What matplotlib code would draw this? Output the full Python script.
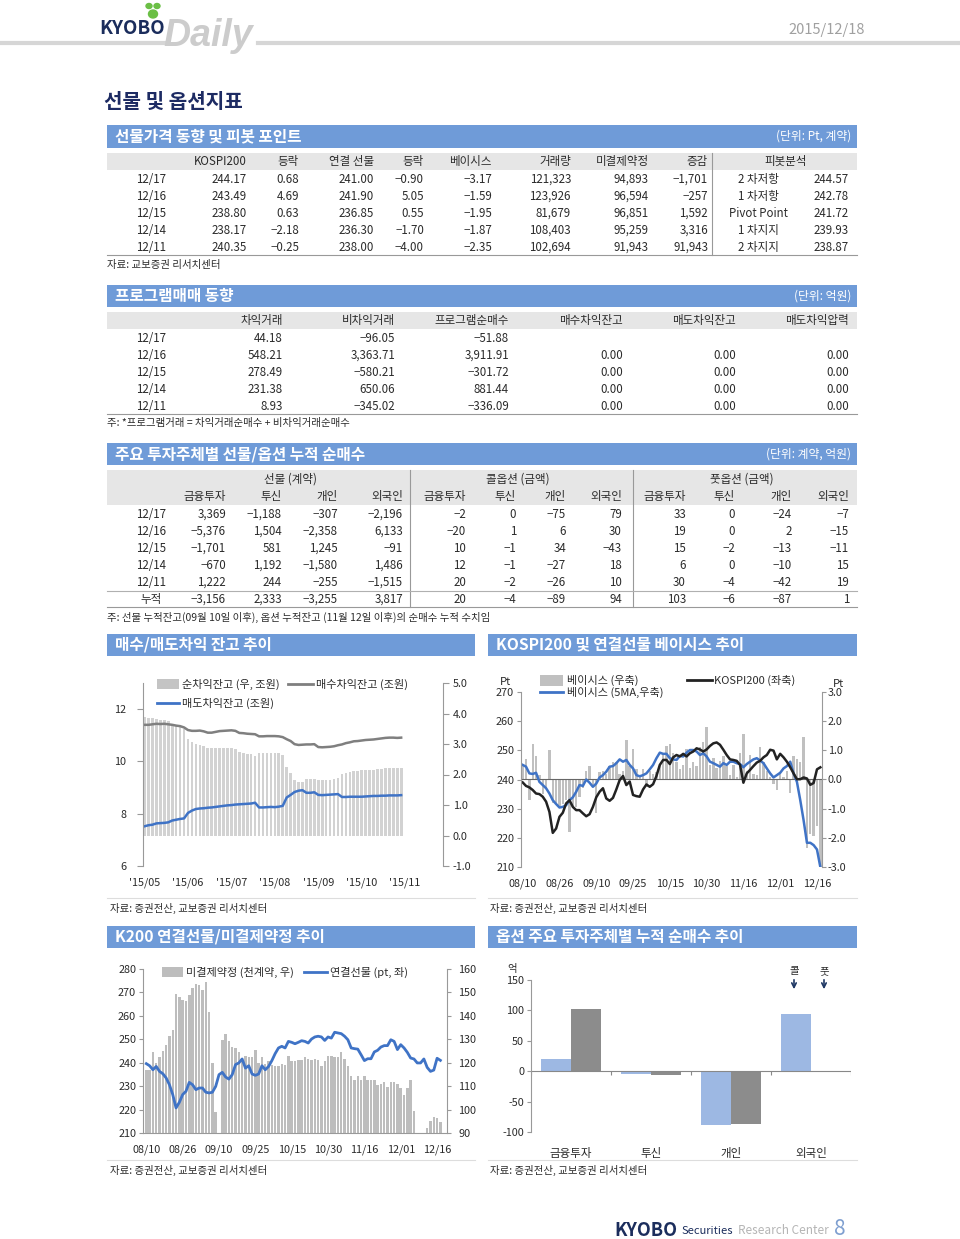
# 선물 및 옵션지표 페이지 재현
import matplotlib
matplotlib.use('Agg')
import matplotlib.pyplot as plt
from matplotlib.patches import Rectangle, Ellipse, FancyArrowPatch
from matplotlib.lines import Line2D
from matplotlib.ticker import FormatStrFormatter
import numpy as np

plt.rcParams['font.family'] = ['Noto Sans CJK KR', 'DejaVu Sans']
plt.rcParams['axes.unicode_minus'] = False

# ---------------- 표 데이터 ----------------
t1_dates = ['12/17', '12/16', '12/15', '12/14', '12/11']
t1_kospi = [244.17, 243.49, 238.80, 238.17, 240.35]
t1_kospi_chg = [0.68, 4.69, 0.63, -2.18, -0.25]
t1_fut = [241.00, 241.90, 236.85, 236.30, 238.00]
t1_fut_chg = [-0.90, 5.05, 0.55, -1.70, -4.00]
t1_basis = [-3.17, -1.59, -1.95, -1.87, -2.35]
t1_volume = [121323, 123926, 81679, 108403, 102694]
t1_oi = [94893, 96594, 96851, 95259, 91943]
t1_oi_chg = [-1701, -257, 1592, 3316, 91943]
t1_pivot_names = ['2 차저항', '1 차저항', 'Pivot Point', '1 차지지', '2 차지지']
t1_pivot_vals = [244.57, 242.78, 241.72, 239.93, 238.87]

t2_arb = [44.18, 548.21, 278.49, 231.38, 8.93]
t2_nonarb = [-96.05, 3363.71, -580.21, 650.06, -345.02]
t2_program = [-51.88, 3911.91, -301.72, 881.44, -336.09]
t2_buy_bal = [None, 0.0, 0.0, 0.0, 0.0]
t2_sell_bal = [None, 0.0, 0.0, 0.0, 0.0]
t2_sell_press = [None, 0.0, 0.0, 0.0, 0.0]

t3_rows = ['12/17', '12/16', '12/15', '12/14', '12/11', '누적']
t3_fut_fin = [3369, -5376, -1701, -670, 1222, -3156]
t3_fut_trust = [-1188, 1504, 581, 1192, 244, 2333]
t3_fut_indiv = [-307, -2358, 1245, -1580, -255, -3255]
t3_fut_foreign = [-2196, 6133, -91, 1486, -1515, 3817]
t3_call_fin = [-2, -20, 10, 12, 20, 20]
t3_call_trust = [0, 1, -1, -1, -2, -4]
t3_call_indiv = [-75, 6, 34, -27, -26, -89]
t3_call_foreign = [79, 30, -43, 18, 10, 94]
t3_put_fin = [33, 19, 15, 6, 30, 103]
t3_put_trust = [0, 0, -2, 0, -4, -6]
t3_put_indiv = [-24, 2, -13, -10, -42, -87]
t3_put_foreign = [-7, -15, -11, 15, 19, 1]

# ---------------- 차트 1: 차익잔고 (2영업일 간격, 월별 11개) ----------------
arb_months = ["'15/05", "'15/06", "'15/07", "'15/08", "'15/09", "'15/10", "'15/11"]
arb_buy = [11.40, 11.40, 11.42, 11.44, 11.43, 11.44, 11.42, 11.40, 11.37, 11.35, 11.30,
           11.20, 11.17, 11.17, 11.18, 11.15, 11.10, 11.10, 11.13, 11.16, 11.17, 11.18,
           11.19, 11.17, 11.09, 11.08, 11.06, 11.05, 11.04, 10.96, 10.96, 10.97, 10.97,
           10.97, 10.96, 10.93, 10.85, 10.78, 10.66, 10.63, 10.64, 10.65, 10.65, 10.66,
           10.55, 10.54, 10.55, 10.56, 10.58, 10.62, 10.65, 10.70, 10.73, 10.77, 10.78,
           10.80, 10.82, 10.83, 10.84, 10.86, 10.88, 10.90, 10.91, 10.91, 10.90, 10.91]
arb_sell = [7.52, 7.56, 7.58, 7.63, 7.64, 7.65, 7.67, 7.74, 7.77, 7.80, 7.82,
            8.03, 8.12, 8.18, 8.20, 8.21, 8.23, 8.24, 8.26, 8.28, 8.30, 8.32,
            8.33, 8.35, 8.36, 8.37, 8.38, 8.39, 8.42, 8.24, 8.24, 8.25, 8.26,
            8.25, 8.27, 8.30, 8.62, 8.72, 8.83, 8.88, 8.90, 8.80, 8.80, 8.82,
            8.72, 8.71, 8.72, 8.73, 8.74, 8.75, 8.64, 8.64, 8.65, 8.65, 8.65,
            8.65, 8.66, 8.67, 8.68, 8.68, 8.69, 8.69, 8.70, 8.70, 8.70, 8.71]
arb_net = [3.87, 3.85, 3.85, 3.82, 3.80, 3.79, 3.76, 3.67, 3.60, 3.55, 3.48,
           3.17, 3.05, 2.99, 2.98, 2.94, 2.87, 2.86, 2.87, 2.88, 2.87, 2.86,
           2.86, 2.82, 2.73, 2.71, 2.68, 2.66, 2.62, 2.72, 2.72, 2.72, 2.71,
           2.72, 2.69, 2.63, 2.23, 2.06, 1.83, 1.75, 1.74, 1.85, 1.85, 1.84,
           1.83, 1.83, 1.83, 1.83, 1.84, 1.87, 2.01, 2.06, 2.08, 2.12, 2.13,
           2.15, 2.16, 2.16, 2.16, 2.18, 2.19, 2.21, 2.21, 2.21, 2.20, 2.20]

# ---------------- 차트 2/3: 08/10 ~ 12/17 (영업일) ----------------
day_labels = ['08/10', '08/26', '09/10', '09/25', '10/15', '10/30', '11/16', '12/01', '12/16']
kospi200 = [239.0, 237.8, 237.3, 236.4, 235.2, 235.0, 234.1, 232.4, 228.9, 221.7,
            223.2, 227.2, 228.6, 231.8, 232.9, 230.6, 229.5, 229.5, 228.4, 227.4,
            228.1, 230.6, 233.9, 235.8, 237.0, 233.5, 232.7, 233.7, 236.6, 239.8,
            241.2, 238.1, 239.3, 234.7, 234.3, 234.1, 236.6, 238.3, 237.5, 238.4,
            241.2, 245.0, 246.7, 246.7, 245.3, 247.6, 248.4, 247.9, 248.8, 247.9,
            249.0, 249.6, 250.7, 250.3, 249.6, 250.3, 251.5, 252.4, 252.7, 251.9,
            250.2, 248.4, 246.9, 246.7, 246.4, 245.0, 238.9, 242.1, 243.3, 244.6,
            245.8, 246.4, 247.6, 248.4, 250.2, 249.9, 246.9, 248.8, 247.6, 246.1,
            244.2, 242.1, 240.1, 240.1, 240.7, 240.35, 238.17, 238.80, 243.49, 244.17]
basis = [0.5, 0.7, -0.7, 1.2, 0.8, 0.15, -0.5, -0.3, 1.0, -0.8,
         -0.8, -0.9, -0.85, -0.7, -1.8, -0.9, -0.95, -0.6, -0.3, 0.3,
         0.45, -0.2, -1.15, 0.25, 0.3, 0.2, 0.45, 0.6, 0.6, 0.2,
         0.3, 1.35, 0.45, 1.05, 0.35, 0.1, 0.35, -0.25, 0.3, 0.2,
         0.25, 0.5, 0.9, 1.15, 1.2, 0.9, 0.6, 0.35, 0.5, 1.05,
         0.4, 0.6, 0.45, 1.1, 1.3, 1.8, 0.5, 0.75, 0.4, 0.65,
         0.8, 0.45, 0.15, 0.5, 0.1, 0.9, 1.55, 0.3, 0.85, 0.2,
         0.15, 1.1, 0.6, 0.3, 0.1, -0.15, -0.35, 0.2, 0.1, 0.3,
         -0.45, 0.8, 0.7, 0.6, 1.45, -2.35, -1.87, -1.95, -1.59, -3.17]
basis_sma = [0.5, 0.44, 0.21, 0.19, 0.23, -0.08, -0.19, -0.3, -0.48, -0.71,
             -0.84, -0.96, -0.94, -0.88, -0.71, -0.61, -0.42, -0.19, -0.22, 0.0,
             -0.11, -0.25, -0.14, 0.07, 0.15, 0.27, 0.44, 0.46, 0.56, 0.69,
             0.61, 0.67, 0.5, 0.38, 0.15, 0.11, 0.15, 0.21, 0.35, 0.5,
             0.73, 0.92, 0.88, 0.88, 0.73, 0.69, 0.67, 0.81, 0.79, 0.92,
             1.01, 1.01, 0.96, 0.84, 0.9, 0.79, 0.61, 0.56, 0.5, 0.44,
             0.56, 0.5, 0.61, 0.61, 0.56, 0.53, 0.42, 0.53, 0.61, 0.69,
             0.73, 0.65, 0.56, 0.38, 0.21, 0.07, 0.15, 0.23, 0.38, 0.46,
             0.61, 0.21, -0.08, -0.71, -1.4, -2.17, -2.17, -2.25, -2.4, -3.0]
fut_close = [239.6, 238.7, 237.0, 238.4, 236.3, 235.3, 233.5, 230.6, 226.4, 220.7,
             223.1, 226.4, 227.8, 231.6, 230.6, 228.5, 229.2, 229.2, 227.4, 227.1,
             227.4, 229.9, 234.9, 235.9, 233.9, 233.0, 234.9, 239.2, 239.9, 241.6,
             237.7, 238.7, 235.2, 234.6, 235.2, 238.7, 237.0, 238.4, 240.9, 243.9,
             246.3, 247.0, 246.3, 249.1, 248.7, 248.1, 248.7, 249.4, 249.1, 248.4,
             250.1, 251.0, 251.3, 251.0, 249.5, 251.0, 250.5, 253.0, 252.7, 252.4,
             251.3, 249.8, 246.3, 246.0, 245.8, 243.4, 240.9, 241.7, 241.7, 244.6,
             245.3, 246.7, 247.3, 247.3, 249.8, 249.1, 245.6, 247.7, 246.3, 244.4,
             242.0, 241.6, 239.9, 239.9, 241.6, 238.0, 236.3, 236.85, 241.9, 241.0]
open_int = [117.0, 116.7, 124.6, 119.9, 122.3, 124.9, 127.7, 131.3, 133.8, 149.3,
            148.0, 146.9, 146.2, 148.7, 151.9, 153.7, 153.0, 150.9, 154.4, 141.6,
            119.9, 99.0, 90.0, 129.8, 132.4, 129.1, 126.6, 126.3, 124.4, 121.3,
            123.0, 122.4, 122.4, 125.6, 119.9, 122.4, 119.4, 120.6, 119.2, 118.7,
            118.7, 119.4, 119.2, 122.7, 120.9, 120.6, 121.3, 121.0, 122.3, 121.7,
            121.3, 121.7, 121.3, 118.7, 120.6, 122.7, 122.7, 122.4, 122.3, 124.4,
            121.6, 118.4, 114.5, 112.8, 114.2, 112.5, 114.2, 112.5, 112.5, 112.5,
            110.6, 111.1, 111.8, 109.6, 111.8, 111.8, 111.1, 109.2, 106.4, 109.2,
            112.5, 99.5, 90.0, 90.0, 90.0, 91.943, 95.259, 96.851, 96.594, 94.893]

# ---------------- 차트 4: 옵션 누적 순매수 ----------------
opt_investors = ['금융투자', '투신', '개인', '외국인']
opt_call = [20, -4, -89, 94]
opt_put = [103, -6, -87, 1]

# ---------------- 공통 도우미 ----------------
W, H = 960, 1239
BAR_BLUE = '#6f9bd8'
NAVY = '#1d2b63'
TXT = '#2b2b2b'
HEAD_GRAY = '#e6e6e6'
LINE_BLUE = '#3f73c6'
SPINE = '#999999'
TS = 8.3  # 표 글자 크기

fig = plt.figure(figsize=(W / 100, H / 100), dpi=100)


def fx(x):
    return x / W


def fy(y):
    return 1 - y / H


def put(x, y, s, size=TS, ha='left', va='center', color=TXT, **kw):
    fig.text(fx(x), fy(y), s, size=size, ha=ha, va=va, color=color, **kw)


def cell(x, y, s, ha='right'):
    # 표 칸: 기준선 정렬로 행마다 높이가 같게
    put(x, y + 4, s, ha=ha, va='baseline')


def rect(x0, y0, x1, y1, color):
    fig.patches.append(Rectangle((fx(x0), fy(y1)), (x1 - x0) / W, (y1 - y0) / H,
                                 transform=fig.transFigure, facecolor=color,
                                 edgecolor='none', zorder=0))


def hline(x0, x1, y, color='#999999', lw=0.8):
    fig.add_artist(Line2D([fx(x0), fx(x1)], [fy(y), fy(y)], color=color, lw=lw))


def vline(x, y0, y1, color='#999999', lw=0.8):
    fig.add_artist(Line2D([fx(x), fx(x)], [fy(y0), fy(y1)], color=color, lw=lw))


def axes_at(x0, y0, x1, y1):
    return fig.add_axes([fx(x0), fy(y1), (x1 - x0) / W, (y1 - y0) / H])


def fmt(v, d=2):
    if v is None:
        return ''
    s = f'{abs(v):,.{d}f}'
    return '−' + s if v < 0 else s


def section(x0, x1, y0, y1, title, unit=None):
    rect(x0, y0, x1, y1, BAR_BLUE)
    put(x0 + 8, (y0 + y1) / 2, title, size=11.3, color='white', weight='bold')
    if unit:
        put(x1 - 6, (y0 + y1) / 2, unit, size=8.5, ha='right', color='white')


def hide_spines(ax):
    for sp in ax.spines.values():
        sp.set_visible(False)


def show_spine(ax, name):
    ax.spines[name].set_visible(True)
    ax.spines[name].set_color(SPINE)
    ax.spines[name].set_linewidth(0.8)


# ---------------- 머리말 ----------------
hline(0, 164, 43, '#d6d6d6', lw=3)
hline(258, 960, 43, '#d6d6d6', lw=3)
put(99, 29, 'KYOBO', size=13.5, weight='bold', color='#1b2d5c')
put(163, 36, 'Daily', size=27, weight='bold', style='italic', color='#cccccc',
    family=['Liberation Sans', 'DejaVu Sans'])
for ex, ey, ew, eh in ((153, 14, 9, 8), (149, 6, 6, 5), (157, 6, 6, 5)):
    fig.patches.append(Ellipse((fx(ex), fy(ey)), ew / W, eh / H,
                               transform=fig.transFigure, color='#6bbf45'))
put(865, 30, '2015/12/18', size=10.5, ha='right', color='#a0a0a0')
put(104, 101, '선물 및 옵션지표', size=14.5, weight='bold', color=NAVY)

# ---------------- 표 1 ----------------
section(107, 857, 125, 148, '선물가격 동향 및 피봇 포인트', '(단위: Pt, 계약)')
rect(107, 153, 857, 170, HEAD_GRAY)
t1_heads = ['KOSPI200', '등락', '연결 선물', '등락', '베이시스', '거래량', '미결제약정', '증감']
t1_right = [247, 299, 374, 424, 492, 571, 649, 708]
for h, xr in zip(t1_heads, t1_right):
    cell(xr, 161, h)
cell(786, 161, '피봇분석', ha='center')
t1_cols = [(t1_kospi, 2), (t1_kospi_chg, 2), (t1_fut, 2), (t1_fut_chg, 2),
           (t1_basis, 2), (t1_volume, 0), (t1_oi, 0), (t1_oi_chg, 0)]
for r, ry in enumerate([179, 196, 213, 230, 247]):
    cell(151, ry, t1_dates[r], ha='center')
    for (vals, d), xr in zip(t1_cols, t1_right):
        cell(xr, ry, fmt(vals[r], d))
    cell(758, ry, t1_pivot_names[r], ha='center')
    cell(849, ry, fmt(t1_pivot_vals[r]))
vline(712, 153, 255)
hline(107, 857, 255)
put(107, 265, '자료: 교보증권 리서치센터', size=7.5)

# ---------------- 표 2 ----------------
section(107, 857, 285, 307, '프로그램매매 동향', '(단위: 억원)')
rect(107, 312, 857, 329, HEAD_GRAY)
t2_heads = ['차익거래', '비차익거래', '프로그램순매수', '매수차익잔고', '매도차익잔고', '매도차익압력']
t2_right = [283, 395, 509, 623, 736, 849]
for h, xr in zip(t2_heads, t2_right):
    cell(xr, 320, h)
t2_cols = [t2_arb, t2_nonarb, t2_program, t2_buy_bal, t2_sell_bal, t2_sell_press]
for r, ry in enumerate([338, 355, 372, 389, 406]):
    cell(151, ry, t1_dates[r], ha='center')
    for vals, xr in zip(t2_cols, t2_right):
        cell(xr, ry, fmt(vals[r]))
hline(107, 857, 414)
put(107, 423, '주: *프로그램거래 = 차익거래순매수 + 비차익거래순매수', size=7.5)

# ---------------- 표 3 ----------------
section(107, 857, 443, 465, '주요 투자주체별 선물/옵션 누적 순매수', '(단위: 계약, 억원)')
rect(107, 470, 857, 505, HEAD_GRAY)
cell(290, 479, '선물 (계약)', ha='center')
cell(518, 479, '콜옵션 (금액)', ha='center')
cell(742, 479, '풋옵션 (금액)', ha='center')
t3_right = [226, 282, 338, 403, 466, 516, 566, 622, 686, 735, 792, 849]
for h, xr in zip(['금융투자', '투신', '개인', '외국인'] * 3, t3_right):
    cell(xr, 496, h)
t3_cols = [t3_fut_fin, t3_fut_trust, t3_fut_indiv, t3_fut_foreign,
           t3_call_fin, t3_call_trust, t3_call_indiv, t3_call_foreign,
           t3_put_fin, t3_put_trust, t3_put_indiv, t3_put_foreign]
for r, ry in enumerate([514, 531, 548, 565, 582, 599]):
    cell(151, ry, t3_rows[r], ha='center')
    for vals, xr in zip(t3_cols, t3_right):
        cell(xr, ry, fmt(vals[r], 0))
vline(410, 470, 607)
vline(633, 470, 607)
hline(107, 857, 591, '#b0b0b0')
hline(107, 857, 607)
put(107, 617, '주: 선물 누적잔고(09월 10일 이후), 옵션 누적잔고 (11월 12일 이후)의 순매수 누적 수치임',
    size=7.5)

# ---------------- 차트 머리 ----------------
section(107, 475, 634, 656, '매수/매도차익 잔고 추이')
section(488, 857, 634, 656, 'KOSPI200 및 연결선물 베이시스 추이')
section(107, 475, 926, 948, 'K200 연결선물/미결제약정 추이')
section(488, 857, 926, 948, '옵션 주요 투자주체별 누적 순매수 추이')
for y in (898, 1160):
    hline(107, 475, y, '#dddddd')
    hline(488, 857, y, '#dddddd')
src = '자료: 증권전산, 교보증권 리서치센터'
put(110, 908, src, size=7.5)
put(490, 908, src, size=7.5)
put(110, 1170, src, size=7.5)
put(490, 1170, src, size=7.5)

tick_kw = dict(labelsize=7.8, labelcolor=TXT, color=SPINE, width=0.8)
LG = 8  # 범례 글자 크기

# ---------------- 차트 1 ----------------
ax1 = axes_at(143, 683, 443, 866)
ax1r = ax1.twinx()
ax1.set_zorder(ax1r.get_zorder() + 1)
ax1.patch.set_visible(False)
x1 = np.arange(len(arb_net))
ax1r.bar(x1, arb_net, width=0.68, color='#d2d2d2', linewidth=0)
ax1.plot(x1, arb_buy, color='#7f7f7f', lw=1.8)
ax1.plot(x1, arb_sell, color=LINE_BLUE, lw=1.8)
ax1.set_ylim(6, 13)
ax1.set_yticks([6, 8, 10, 12])
ax1r.set_ylim(-1, 5)
ax1r.set_yticks(range(-1, 6))
ax1r.yaxis.set_major_formatter(FormatStrFormatter('%.1f'))
ax1.set_xlim(-0.4, 75.6)
ax1.set_xticks(np.arange(0, 67, 11))
ax1.set_xticklabels(arb_months)
hide_spines(ax1)
hide_spines(ax1r)
show_spine(ax1, 'left')
show_spine(ax1r, 'right')
ax1.tick_params(axis='y', length=4, pad=8, **tick_kw)
ax1r.tick_params(axis='y', length=4, pad=3, **tick_kw)
ax1.tick_params(axis='x', length=0, pad=8, **tick_kw)

rect(157, 679, 179, 689, '#c4c4c4')
put(182, 684, '순차익잔고 (우, 조원)', size=LG)
hline(288, 313, 684, '#7f7f7f', lw=2)
put(316, 684, '매수차익잔고 (조원)', size=LG)
hline(157, 179, 703, LINE_BLUE, lw=2)
put(182, 703, '매도차익잔고 (조원)', size=LG)

# ---------------- 차트 2 ----------------
idx = np.arange(len(kospi200))
label_pos = np.arange(0, 89, 11)
ax2 = axes_at(521, 692, 822, 867)
ax2r = ax2.twinx()
ax2.set_zorder(ax2r.get_zorder() + 1)
ax2.patch.set_visible(False)
ax2r.bar(idx, basis, width=0.72, color='#c0c0c0', linewidth=0)
ax2r.axhline(0, color='#666666', lw=0.8)
ax2r.plot(idx, basis_sma, color=LINE_BLUE, lw=1.8)
ax2.plot(idx, kospi200, color='#222222', lw=1.8)
ax2.set_ylim(210, 270)
ax2.set_yticks(range(210, 271, 10))
ax2r.set_ylim(-3, 3)
ax2r.set_yticks(range(-3, 4))
ax2r.yaxis.set_major_formatter(FormatStrFormatter('%.1f'))
ax2.set_xlim(-0.5, 89.5)
ax2.set_xticks(label_pos)
ax2.set_xticklabels(day_labels)
hide_spines(ax2)
hide_spines(ax2r)
show_spine(ax2, 'left')
show_spine(ax2r, 'right')
ax2.tick_params(axis='y', length=3, pad=2, **tick_kw)
ax2r.tick_params(axis='y', length=3, pad=1, **tick_kw)
ax2.tick_params(axis='x', length=0, pad=8, **tick_kw)

put(500, 682, 'Pt', size=LG)
put(833, 684, 'Pt', size=LG)
rect(540, 675, 563, 686, '#c0c0c0')
put(567, 680, '베이시스 (우축)', size=LG)
hline(540, 563, 692, LINE_BLUE, lw=2)
put(567, 692, '베이시스 (5MA,우축)', size=LG)
hline(687, 712, 680, '#222222', lw=2)
put(714, 680, 'KOSPI200 (좌축)', size=LG)

# ---------------- 차트 3 ----------------
ax3 = axes_at(143, 969, 447, 1133)
ax3r = ax3.twinx()
ax3.set_zorder(ax3r.get_zorder() + 1)
ax3.patch.set_visible(False)
ax3r.bar(idx, open_int, width=0.75, color='#bdbdbd', linewidth=0)
ax3.plot(idx, fut_close, color=LINE_BLUE, lw=2)
ax3.set_ylim(210, 280)
ax3.set_yticks(range(210, 281, 10))
ax3r.set_ylim(90, 160)
ax3r.set_yticks(range(90, 161, 10))
ax3.set_xlim(-1, 91)
ax3.set_xticks(label_pos)
ax3.set_xticklabels(day_labels)
hide_spines(ax3)
hide_spines(ax3r)
show_spine(ax3, 'left')
show_spine(ax3, 'bottom')
show_spine(ax3r, 'right')
ax3.tick_params(axis='y', length=3, pad=2, **tick_kw)
ax3r.tick_params(axis='y', length=3, pad=5, **tick_kw)
ax3.tick_params(axis='x', length=0, pad=8, **tick_kw)

rect(162, 967, 183, 977, '#bdbdbd')
put(186, 972, '미결제약정 (천계약, 우)', size=LG)
hline(304, 327, 972, LINE_BLUE, lw=2)
put(330, 972, '연결선물 (pt, 좌)', size=LG)

# ---------------- 차트 4 ----------------
ax4 = axes_at(531, 980, 851, 1132)
pos = np.arange(len(opt_investors))
ax4.bar(pos - 0.185, opt_call, width=0.37, color='#9db8e3', linewidth=0)
ax4.bar(pos + 0.185, opt_put, width=0.37, color='#8c8c8c', linewidth=0)
ax4.axhline(0, color='#888888', lw=0.8)
ax4.vlines(np.arange(-0.5, 4, 1.0), -6, 0, color='#888888', lw=0.8)
ax4.set_ylim(-100, 150)
ax4.set_yticks(range(-100, 151, 50))
ax4.set_xlim(-0.5, 3.5)
ax4.set_xticks(pos)
ax4.set_xticklabels(opt_investors)
hide_spines(ax4)
show_spine(ax4, 'left')
ax4.tick_params(axis='y', length=3, pad=2, **tick_kw)
ax4.tick_params(axis='x', length=0, pad=11, labelsize=8.3, labelcolor=TXT)

put(507, 969, '억', size=7.5)
for lx, lab in ((794, '콜'), (824, '풋')):
    put(lx, 971, lab, size=7.5, ha='center')
    fig.add_artist(FancyArrowPatch(
        (fx(lx), fy(977)), (fx(lx), fy(992)), transform=fig.transFigure,
        arrowstyle='->', mutation_scale=8, color='#1f3864', lw=1.2))

# ---------------- 꼬리말 ----------------
put(614, 1231, 'KYOBO', size=13, weight='bold', color='#1b2d5c')
put(682, 1231, 'Securities', size=8, color='#1b2d5c')
put(738, 1231, 'Research Center', size=8.5, color='#b5b5b5')
put(834, 1229, '8', size=15, color='#7f9fd0')

fig.savefig('out.png', dpi=100)
